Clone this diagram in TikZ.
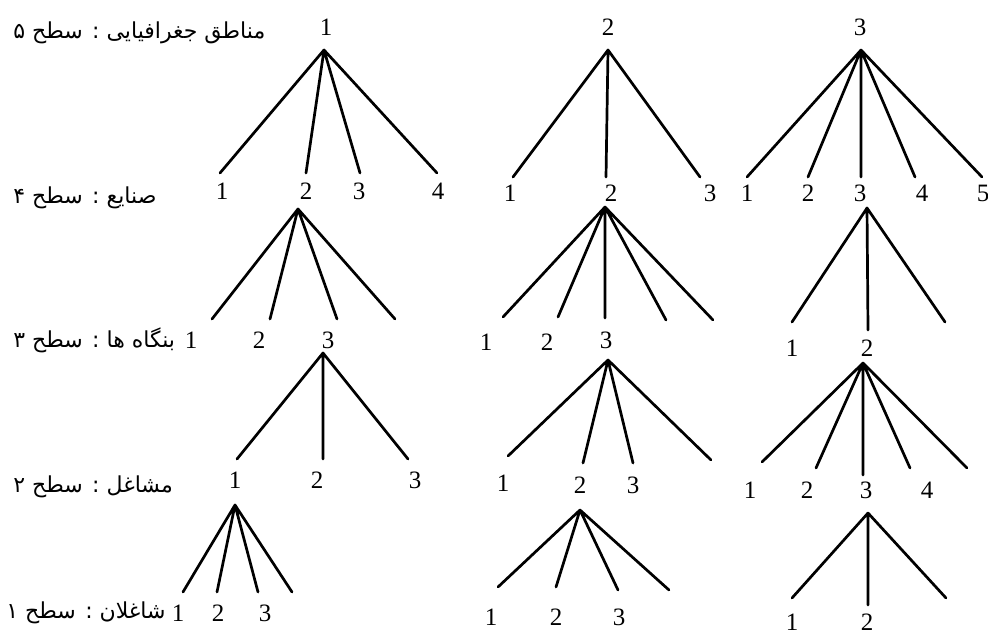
\documentclass[tikz,border=0pt]{standalone}
\usepackage{fontspec}
\setmainfont{Liberation Serif}
\newfontfamily\arabicfont[Script=Arabic]{DejaVu Sans}
\TeXXeTstate=1
\tikzset{
  num/.style={font=\fontsize{12.5}{14}\selectfont, inner sep=0pt},
  lvl/.style={font=\arabicfont\fontsize{11}{13}\selectfont, inner sep=0pt, anchor=west},
  branch/.style={line width=1.35pt, line cap=round},
}
\begin{document}
\begin{tikzpicture}[x=0.5pt,y=-0.5pt]
\useasboundingbox (0,0) rectangle (988,633);

% level labels
\node[lvl] (L5) at (13,33) {\beginR مناطق جغرافیایی : سطح ۵\endR};
\node[lvl] (L4) at (13,198) {\beginR صنایع : سطح ۴\endR};
\node[lvl] (L3) at (13,340) {\beginR بنگاه ها : سطح ۳\endR};
\node[lvl] (L2) at (13,487) {\beginR مشاغل : سطح ۲\endR};
\node[lvl, anchor=east] (L1) at (166,613) {\beginR شاغلان : سطح ۱\endR};

% level 5 roots
\node[num] (r1) at (326,27) {1};
\node[num] (r2) at (608,27) {2};
\node[num] (r3) at (860,27) {3};

% tree A
\coordinate (A) at (324,50);
\coordinate (A-1) at (220,173);
\coordinate (A-2) at (306,173);
\coordinate (A-3) at (360,173);
\coordinate (A-4) at (437,173);
\draw[branch] (A) -- (A-1) (A) -- (A-2) (A) -- (A-3) (A) -- (A-4);
\node[num] (A1) at (222,191) {1};
\node[num] (A2) at (306,191) {2};
\node[num] (A3) at (359,191) {3};
\node[num] (A4) at (438,191) {4};

% tree B
\coordinate (B) at (608,50);
\coordinate (B-1) at (513,177);
\coordinate (B-2) at (606,177);
\coordinate (B-3) at (700,177);
\draw[branch] (B) -- (B-1) (B) -- (B-2) (B) -- (B-3);
\node[num] (B1) at (510,193) {1};
\node[num] (B2) at (611,193) {2};
\node[num] (B3) at (710,193) {3};

% tree C
\coordinate (C) at (861,50);
\coordinate (C-1) at (747,177);
\coordinate (C-2) at (808,177);
\coordinate (C-3) at (861,177);
\coordinate (C-4) at (915,177);
\coordinate (C-5) at (982,177);
\draw[branch] (C) -- (C-1) (C) -- (C-2) (C) -- (C-3) (C) -- (C-4) (C) -- (C-5);
\node[num] (C1) at (747,193) {1};
\node[num] (C2) at (808,193) {2};
\node[num] (C3) at (860,193) {3};
\node[num] (C4) at (922,193) {4};
\node[num] (C5) at (983,193) {5};

% level 4 -> 3
\coordinate (D) at (298,209);
\coordinate (D-1) at (212,319);
\coordinate (D-2) at (270,319);
\coordinate (D-3) at (337,319);
\coordinate (D-4) at (395,319);
\draw[branch] (D) -- (D-1) (D) -- (D-2) (D) -- (D-3) (D) -- (D-4);
\node[num] (D1) at (191,340) {1};
\node[num] (D2) at (259,340) {2};
\node[num] (D3) at (328,340) {3};

\coordinate (E) at (605,207);
\coordinate (E-1) at (503,317);
\coordinate (E-2) at (558,317);
\coordinate (E-3) at (605,318);
\coordinate (E-4) at (666,320);
\coordinate (E-5) at (713,320);
\draw[branch] (E) -- (E-1) (E) -- (E-2) (E) -- (E-3) (E) -- (E-4) (E) -- (E-5);
\node[num] (E1) at (486,342) {1};
\node[num] (E2) at (547,342) {2};
\node[num] (E3) at (606,340) {3};

\coordinate (F) at (867,208);
\coordinate (F-1) at (792,322);
\coordinate (F-2) at (868,330);
\coordinate (F-3) at (945,322);
\draw[branch] (F) -- (F-1) (F) -- (F-2) (F) -- (F-3);
\node[num] (F1) at (792,348) {1};
\node[num] (F2) at (867,348) {2};

% level 3 -> 2
\coordinate (G) at (323,353);
\coordinate (G-1) at (237,459);
\coordinate (G-2) at (323,459);
\coordinate (G-3) at (408,459);
\draw[branch] (G) -- (G-1) (G) -- (G-2) (G) -- (G-3);
\node[num] (G1) at (235,480) {1};
\node[num] (G2) at (317,480) {2};
\node[num] (G3) at (415,480) {3};

\coordinate (H) at (608,360);
\coordinate (H-1) at (508,456);
\coordinate (H-2) at (583,463);
\coordinate (H-3) at (633,463);
\coordinate (H-4) at (711,460);
\draw[branch] (H) -- (H-1) (H) -- (H-2) (H) -- (H-3) (H) -- (H-4);
\node[num] (H1) at (503,483) {1};
\node[num] (H2) at (580,485) {2};
\node[num] (H3) at (633,485) {3};

\coordinate (I) at (863,363);
\coordinate (I-1) at (762,462);
\coordinate (I-2) at (816,468);
\coordinate (I-3) at (863,475);
\coordinate (I-4) at (910,468);
\coordinate (I-5) at (967,468);
\draw[branch] (I) -- (I-1) (I) -- (I-2) (I) -- (I-3) (I) -- (I-4) (I) -- (I-5);
\node[num] (I1) at (750,490) {1};
\node[num] (I2) at (807,490) {2};
\node[num] (I3) at (866,490) {3};
\node[num] (I4) at (927,490) {4};

% level 2 -> 1
\coordinate (J) at (235,505);
\coordinate (J-1) at (183,592);
\coordinate (J-2) at (217,592);
\coordinate (J-3) at (258,592);
\coordinate (J-4) at (292,592);
\draw[branch] (J) -- (J-1) (J) -- (J-2) (J) -- (J-3) (J) -- (J-4);
\node[num] (J1) at (178,613) {1};
\node[num] (J2) at (218,613) {2};
\node[num] (J3) at (265,613) {3};

\coordinate (K) at (580,510);
\coordinate (K-1) at (498,587);
\coordinate (K-2) at (556,587);
\coordinate (K-3) at (618,590);
\coordinate (K-4) at (669,590);
\draw[branch] (K) -- (K-1) (K) -- (K-2) (K) -- (K-3) (K) -- (K-4);
\node[num] (K1) at (491,617) {1};
\node[num] (K2) at (556,617) {2};
\node[num] (K3) at (619,617) {3};

\coordinate (M) at (868,513);
\coordinate (M-1) at (792,598);
\coordinate (M-2) at (868,605);
\coordinate (M-3) at (946,598);
\draw[branch] (M) -- (M-1) (M) -- (M-2) (M) -- (M-3);
\node[num] (M1) at (792,622) {1};
\node[num] (M2) at (867,622) {2};
\end{tikzpicture}
\end{document}
